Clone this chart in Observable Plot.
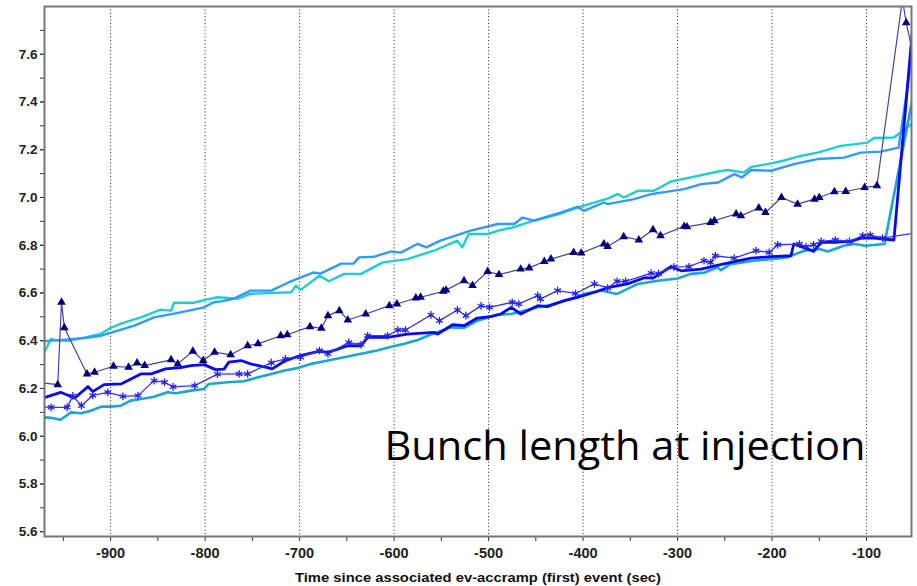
<!DOCTYPE html>
<html>
<head>
<meta charset="utf-8">
<script src="https://cdn.jsdelivr.net/npm/d3@7"></script>
<script src="https://cdn.jsdelivr.net/npm/@observablehq/plot@0.6"></script>
<style>
  html, body { margin: 0; padding: 0; background: #fff; }
  #chart { width: 917px; height: 586px; }
</style>
</head>
<body>
<div id="chart"></div>
<script>
// ---- tick values ----
const xTicks = [-900, -800, -700, -600, -500, -400, -300, -200, -100];
const xMinorTicks = [-950, -900, -850, -800, -750, -700, -650, -600, -550, -500, -450, -400, -350, -300, -250, -200, -150, -100];
const yTicks = [5.6, 5.8, 6.0, 6.2, 6.4, 6.6, 6.8, 7.0, 7.2, 7.4, 7.6];
const yMinorTicks = [5.6, 5.7, 5.8, 5.9, 6.0, 6.1, 6.2, 6.3, 6.4, 6.5, 6.6, 6.7, 6.8, 6.9, 7.0, 7.1, 7.2, 7.3, 7.4, 7.5, 7.6, 7.7];
const xLabel = "Time since associated ev-accramp (first) event (sec)";
const annotation = ["Bunch length at injection"];

// ---- series: [time (sec), bunch length] ----
const cyanUpper = [[-971,6.347],[-963,6.408],[-958,6.402],[-945,6.400],[-928,6.413],[-910,6.430],[-900,6.454],[-889,6.472],[-879,6.484],[-868,6.498],[-847,6.530],[-836,6.526],[-833,6.559],[-812,6.559],[-799,6.572],[-787,6.582],[-765,6.576],[-752,6.597],[-709,6.603],[-704,6.631],[-699,6.613],[-679,6.672],[-669,6.649],[-653,6.680],[-635,6.680],[-612,6.728],[-586,6.742],[-558,6.777],[-533,6.819],[-528,6.791],[-521,6.847],[-501,6.847],[-487,6.864],[-476,6.873],[-452,6.903],[-424,6.932],[-406,6.958],[-392,6.974],[-374,6.995],[-363,7.015],[-357,7.000],[-342,7.028],[-325,7.028],[-307,7.067],[-286,7.084],[-257,7.109],[-247,7.115],[-230,7.105],[-222,7.128],[-205,7.140],[-188,7.154],[-170,7.174],[-152,7.188],[-127,7.216],[-99,7.230],[-92,7.249],[-71,7.251],[-64,7.272],[-48,7.320]];

const blueUpper = [[-975,6.397],[-945,6.405],[-924,6.413],[-910,6.421],[-875,6.463],[-854,6.498],[-826,6.519],[-801,6.540],[-791,6.561],[-783,6.565],[-770,6.576],[-752,6.610],[-730,6.610],[-712,6.644],[-685,6.686],[-678,6.681],[-656,6.723],[-643,6.723],[-637,6.749],[-621,6.752],[-603,6.774],[-593,6.769],[-575,6.806],[-566,6.791],[-551,6.819],[-519,6.861],[-490,6.889],[-473,6.889],[-464,6.916],[-452,6.903],[-424,6.937],[-406,6.961],[-399,6.944],[-378,6.979],[-374,6.972],[-346,6.993],[-328,7.014],[-293,7.035],[-275,7.056],[-257,7.063],[-240,7.098],[-232,7.084],[-222,7.115],[-201,7.112],[-177,7.140],[-152,7.161],[-124,7.167],[-106,7.188],[-85,7.192],[-66,7.209],[-51,7.620]];

const navyTri = [[-980,6.226],[-956,6.216],[-952,6.561],[-949,6.454],[-925,6.261],[-917,6.268],[-897,6.293],[-881,6.289],[-872,6.307],[-864,6.296],[-836,6.320],[-829,6.303],[-813,6.356],[-802,6.317],[-790,6.352],[-773,6.341],[-755,6.379],[-744,6.387],[-720,6.421],[-713,6.425],[-689,6.459],[-677,6.452],[-670,6.505],[-658,6.526],[-649,6.487],[-630,6.512],[-605,6.547],[-597,6.554],[-577,6.579],[-572,6.582],[-548,6.607],[-545,6.612],[-526,6.651],[-517,6.631],[-501,6.690],[-489,6.677],[-466,6.700],[-457,6.705],[-441,6.732],[-434,6.742],[-410,6.770],[-402,6.767],[-378,6.805],[-374,6.795],[-357,6.836],[-341,6.822],[-326,6.865],[-318,6.840],[-293,6.879],[-290,6.877],[-265,6.895],[-261,6.903],[-238,6.931],[-233,6.923],[-214,6.956],[-207,6.937],[-190,7.000],[-173,6.972],[-155,6.993],[-150,7.000],[-134,7.024],[-122,7.025],[-102,7.042],[-89,7.049],[-62,7.830],[-58,7.732],[-44,7.478]];

const starLine = [[-982,6.124],[-963,6.121],[-946,6.121],[-940,6.169],[-931,6.128],[-919,6.171],[-903,6.184],[-887,6.167],[-871,6.170],[-854,6.233],[-843,6.226],[-834,6.207],[-811,6.212],[-787,6.260],[-764,6.261],[-755,6.261],[-730,6.308],[-715,6.324],[-699,6.331],[-679,6.359],[-670,6.345],[-648,6.393],[-635,6.384],[-628,6.421],[-607,6.421],[-596,6.445],[-588,6.445],[-561,6.508],[-552,6.484],[-533,6.529],[-524,6.505],[-508,6.546],[-499,6.540],[-475,6.561],[-468,6.554],[-448,6.589],[-445,6.575],[-427,6.610],[-408,6.598],[-388,6.638],[-374,6.621],[-364,6.649],[-355,6.649],[-328,6.683],[-320,6.681],[-304,6.709],[-288,6.710],[-272,6.735],[-265,6.728],[-260,6.756],[-240,6.746],[-217,6.777],[-203,6.770],[-194,6.802],[-171,6.805],[-164,6.794],[-156,6.802],[-148,6.816],[-133,6.822],[-118,6.816],[-104,6.840],[-96,6.843],[-83,6.830],[-40,6.857]];

const blueThick = [[-975,6.155],[-953,6.184],[-938,6.160],[-924,6.208],[-919,6.187],[-907,6.216],[-889,6.219],[-868,6.261],[-857,6.261],[-842,6.282],[-826,6.287],[-815,6.296],[-801,6.300],[-789,6.279],[-780,6.281],[-775,6.310],[-762,6.317],[-752,6.303],[-734,6.287],[-729,6.282],[-715,6.317],[-699,6.338],[-679,6.356],[-670,6.351],[-649,6.379],[-635,6.379],[-628,6.414],[-607,6.414],[-586,6.428],[-558,6.435],[-554,6.428],[-538,6.467],[-526,6.463],[-512,6.495],[-498,6.501],[-487,6.512],[-476,6.540],[-466,6.512],[-448,6.547],[-438,6.543],[-420,6.568],[-406,6.582],[-388,6.603],[-374,6.622],[-353,6.638],[-335,6.664],[-326,6.662],[-307,6.710],[-296,6.693],[-275,6.700],[-258,6.716],[-240,6.731],[-222,6.746],[-201,6.752],[-180,6.756],[-177,6.805],[-162,6.784],[-156,6.774],[-148,6.812],[-134,6.812],[-116,6.817],[-106,6.830],[-92,6.830],[-71,6.822],[-51,7.720]];

const tealLower = [[-975,6.080],[-963,6.077],[-953,6.069],[-942,6.100],[-931,6.096],[-921,6.107],[-910,6.124],[-900,6.124],[-889,6.128],[-879,6.149],[-868,6.156],[-854,6.165],[-840,6.184],[-831,6.180],[-815,6.191],[-801,6.198],[-796,6.219],[-776,6.226],[-759,6.230],[-744,6.247],[-730,6.261],[-716,6.275],[-702,6.286],[-688,6.303],[-674,6.314],[-653,6.331],[-639,6.342],[-618,6.359],[-603,6.375],[-589,6.387],[-575,6.403],[-561,6.426],[-540,6.456],[-526,6.454],[-512,6.484],[-491,6.509],[-476,6.512],[-448,6.540],[-434,6.551],[-413,6.575],[-399,6.596],[-381,6.610],[-364,6.596],[-342,6.638],[-321,6.651],[-300,6.661],[-286,6.680],[-272,6.685],[-258,6.707],[-254,6.696],[-244,6.721],[-219,6.735],[-201,6.742],[-184,6.749],[-166,6.777],[-150,6.784],[-141,6.774],[-124,6.798],[-113,6.805],[-101,6.798],[-81,6.805],[-51,7.420]];

const rows = (arr) => arr.map(([t, v]) => ({t, v}));

const plot = Plot.plot({
  width: 917,
  height: 586,
  marginLeft: 44,
  marginRight: 6,
  marginTop: 6,
  marginBottom: 50,
  style: {fontFamily: "'Liberation Sans', Arial, sans-serif", background: "#fff", color: "#222"},
  x: {domain: [-970, -52.4], label: null},
  y: {domain: [5.58, 7.8], label: null},
  marks: [
    Plot.ruleX(xTicks, {stroke: "#222", strokeDasharray: "1,2.4", strokeWidth: 1}),
    Plot.axisY({ticks: yMinorTicks, tickSize: 4, tickFormat: () => "", label: null, stroke: "#333"}),
    Plot.axisY({ticks: yTicks, tickSize: 4, tickPadding: 3, tickFormat: d3.format(".1f"), label: null, fontSize: 13.5, fontWeight: "bold", stroke: "#333"}),
    Plot.axisX({ticks: xMinorTicks, tickSize: 5, tickFormat: () => "", label: null, stroke: "#333"}),
    Plot.axisX({ticks: xTicks, tickSize: 0, tickPadding: 11, tickFormat: d => String(d), label: null, fontSize: 14.5, fontWeight: "bold"}),
    Plot.line(rows(cyanUpper), {x: "t", y: "v", stroke: "#1FCFCF", strokeWidth: 2.4, clip: true}),
    Plot.line(rows(blueUpper), {x: "t", y: "v", stroke: "#3399FF", strokeWidth: 2.4, clip: true}),
    Plot.line(rows(tealLower), {x: "t", y: "v", stroke: "#1AA5D3", strokeWidth: 2.6, clip: true}),
    Plot.line(rows(blueThick), {x: "t", y: "v", stroke: "#0808F8", strokeWidth: 2.8, clip: true}),
    Plot.line(rows(starLine), {x: "t", y: "v", stroke: "#3535F0", strokeWidth: 1.3, clip: true}),
    Plot.dot(rows(starLine), {x: "t", y: "v", symbol: "asterisk", r: 3.6, stroke: "#2222E8", strokeWidth: 1.3, clip: true}),
    Plot.line(rows(navyTri), {x: "t", y: "v", stroke: "#44449E", strokeWidth: 1.2, clip: true}),
    Plot.dot(rows(navyTri), {x: "t", y: "v", symbol: "triangle", r: 3.2, fill: "#00007F", stroke: "none", clip: true}),
    Plot.frame({stroke: "#777", strokeWidth: 2}),
    Plot.text(annotation, {frameAnchor: "top-left", dx: 340, dy: 440.5, textAnchor: "start", lineAnchor: "middle", fontSize: 40, fontFamily: "'Open Sans', 'Noto Sans', sans-serif", fill: "#000", className: "anno"}),
    Plot.text([xLabel], {frameAnchor: "bottom", dy: 41, textAnchor: "middle", lineAnchor: "middle", fontSize: 13.5, fontWeight: "bold", fill: "#111", className: "xlab"})
  ]
});

d3.select(plot).selectAll(".anno text").attr("textLength", 481).attr("lengthAdjust", "spacingAndGlyphs");
d3.select(plot).selectAll(".xlab text").attr("textLength", 366).attr("lengthAdjust", "spacingAndGlyphs");

document.getElementById("chart").appendChild(plot);
</script>
</body>
</html>
